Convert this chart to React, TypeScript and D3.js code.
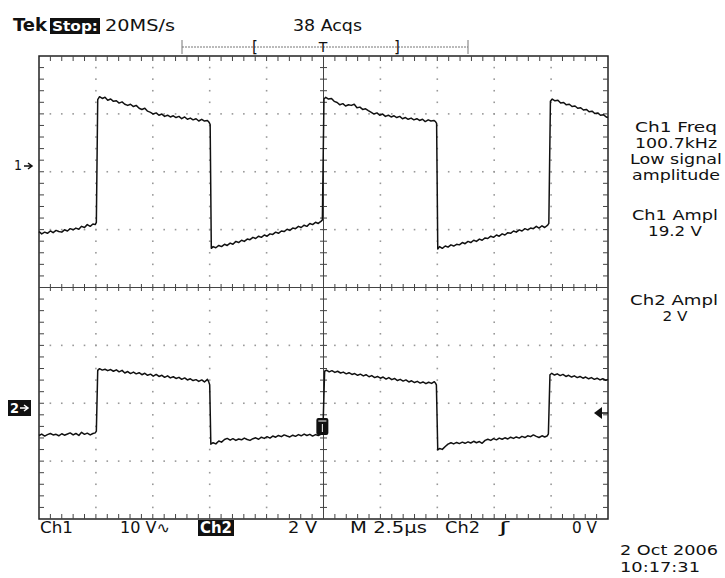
import React from 'react';
import * as d3 from 'd3';

// time in µs, value in volts
const ch1Trace: [number, number][] = [
  [0, -11.5], [0.12, -11.9], [0.25, -11.6], [0.37, -11.8], [0.5, -11.4], [0.62, -11.7], [0.75, -11.3], [0.87, -11.5],
  [1.0, -11.6], [1.12, -11.2], [1.25, -11.4], [1.37, -11.0], [1.5, -11.2], [1.62, -10.9], [1.75, -11.1], [1.87, -10.6],
  [2.0, -10.8], [2.12, -10.3], [2.25, -10.6], [2.37, -10.2], [2.47, -10.3],
  [2.52, -9.9], [2.58, 11.3], [2.66, 11.8], [2.78, 11.5], [2.9, 11.7], [3.02, 11.2], [3.15, 11.4], [3.27, 11.0],
  [3.4, 11.1], [3.52, 10.7], [3.65, 10.9], [3.77, 10.5], [3.9, 10.3], [4.02, 10.5], [4.15, 10.1], [4.27, 10.3],
  [4.4, 9.8], [4.52, 9.6], [4.65, 9.8], [4.77, 9.3], [4.9, 9.1], [5.02, 8.8], [5.15, 9.0], [5.27, 8.6], [5.4, 8.8],
  [5.52, 8.4], [5.65, 8.6], [5.77, 8.3], [5.9, 8.5], [6.02, 8.2], [6.15, 8.4], [6.27, 8.0], [6.4, 8.3], [6.52, 7.9],
  [6.65, 8.1], [6.77, 7.8], [6.9, 8.0], [7.02, 7.6], [7.15, 7.9], [7.27, 7.6], [7.4, 7.7], [7.47, 7.4],
  [7.52, 7.0], [7.57, -14.4], [7.65, -14.1], [7.77, -14.3], [7.9, -13.9], [8.02, -14.1], [8.15, -13.7], [8.27, -13.9],
  [8.4, -13.5], [8.52, -13.7], [8.65, -13.2], [8.77, -13.4], [8.9, -13.0], [9.02, -13.2], [9.15, -12.8], [9.27, -12.9],
  [9.4, -12.5], [9.52, -12.7], [9.65, -12.3], [9.77, -12.5], [9.9, -12.1], [10.02, -12.3], [10.15, -11.9], [10.27, -12.0],
  [10.4, -11.6], [10.52, -11.8], [10.65, -11.4], [10.77, -11.5], [10.9, -11.1], [11.02, -11.3], [11.15, -10.9],
  [11.27, -11.0], [11.4, -10.6], [11.52, -10.8], [11.65, -10.4], [11.77, -10.6], [11.9, -10.1], [12.02, -10.3],
  [12.15, -9.9], [12.27, -10.1], [12.4, -9.7],
  [12.45, -9.5], [12.52, 11.4], [12.6, 11.7], [12.72, 11.4], [12.85, 11.5], [12.97, 11.0], [13.1, 10.8], [13.22, 10.4],
  [13.35, 10.6], [13.47, 10.2], [13.6, 10.4], [13.72, 10.3], [13.85, 10.5], [13.97, 9.9], [14.1, 10.0], [14.22, 9.6],
  [14.35, 9.7], [14.47, 9.4], [14.6, 9.1], [14.72, 8.8], [14.85, 9.0], [14.97, 8.6], [15.1, 8.8], [15.22, 8.4],
  [15.35, 8.6], [15.47, 8.3], [15.6, 8.5], [15.72, 8.2], [15.85, 8.4], [15.97, 8.0], [16.1, 8.2], [16.22, 7.9],
  [16.35, 8.1], [16.47, 7.8], [16.6, 8.0], [16.72, 7.7], [16.85, 7.9], [16.97, 7.5], [17.1, 7.8], [17.22, 7.6],
  [17.35, 7.7], [17.42, 7.5],
  [17.47, 7.2], [17.52, -14.5], [17.6, -14.1], [17.72, -14.4], [17.85, -14.0], [17.97, -14.2], [18.1, -13.8],
  [18.22, -14.0], [18.35, -13.7], [18.47, -13.8], [18.6, -13.4], [18.72, -13.6], [18.85, -13.2], [18.97, -13.4],
  [19.1, -13.0], [19.22, -13.2], [19.35, -12.8], [19.47, -13.0], [19.6, -12.6], [19.72, -12.7], [19.85, -12.3],
  [19.97, -12.5], [20.1, -12.1], [20.22, -12.3], [20.35, -11.9], [20.47, -12.1], [20.6, -11.7], [20.72, -11.8],
  [20.85, -11.4], [20.97, -11.6], [21.1, -11.2], [21.22, -11.4], [21.35, -11.0], [21.47, -11.2], [21.6, -10.9],
  [21.72, -11.0], [21.85, -10.6], [21.97, -10.9], [22.1, -10.5], [22.22, -10.8], [22.35, -10.4],
  [22.4, -10.1], [22.47, 11.0], [22.55, 11.4], [22.67, 11.1], [22.8, 11.2], [22.92, 10.7], [23.05, 10.8], [23.17, 10.4],
  [23.3, 10.5], [23.42, 10.1], [23.55, 10.2], [23.67, 9.8], [23.8, 9.9], [23.92, 9.5], [24.05, 9.6], [24.17, 9.2],
  [24.3, 9.3], [24.42, 8.9], [24.55, 9.0], [24.67, 8.6], [24.8, 8.7], [24.92, 8.3], [25, 8.2],
];

const ch2Trace: [number, number][] = [
  [0, -0.95], [0.12, -0.9], [0.25, -0.97], [0.37, -0.92], [0.5, -0.88], [0.62, -0.93], [0.75, -0.91], [0.87, -0.96],
  [1.0, -0.89], [1.12, -0.94], [1.25, -0.9], [1.37, -0.86], [1.5, -0.93], [1.62, -0.88], [1.75, -0.95], [1.87, -0.84],
  [2.0, -0.91], [2.12, -0.87], [2.25, -0.93], [2.37, -0.88], [2.47, -0.86],
  [2.52, -0.8], [2.58, 1.3], [2.66, 1.36], [2.78, 1.31], [2.9, 1.34], [3.02, 1.29], [3.15, 1.33], [3.27, 1.27],
  [3.4, 1.32], [3.52, 1.25], [3.65, 1.3], [3.77, 1.21], [3.9, 1.26], [4.02, 1.19], [4.15, 1.24], [4.27, 1.18],
  [4.4, 1.22], [4.52, 1.15], [4.65, 1.2], [4.77, 1.13], [4.9, 1.17], [5.02, 1.1], [5.15, 1.16], [5.27, 1.09],
  [5.4, 1.13], [5.52, 1.06], [5.65, 1.11], [5.77, 1.04], [5.9, 1.08], [6.02, 1.02], [6.15, 1.06], [6.27, 0.99],
  [6.4, 1.04], [6.52, 0.97], [6.65, 1.01], [6.77, 0.95], [6.9, 0.98], [7.02, 0.92], [7.15, 0.97], [7.27, 0.9],
  [7.4, 0.99], [7.45, 0.92],
  [7.5, 0.8], [7.55, -1.25], [7.65, -1.2], [7.77, -1.24], [7.9, -1.14], [8.02, -1.18], [8.15, -1.09], [8.27, -1.05],
  [8.4, -1.11], [8.52, -1.06], [8.65, -1.12], [8.77, -1.07], [8.9, -1.1], [9.02, -1.04], [9.15, -1.09], [9.27, -1.12],
  [9.4, -1.06], [9.52, -1.03], [9.65, -1.08], [9.77, -1.01], [9.9, -1.05], [10.02, -0.99], [10.15, -1.04],
  [10.27, -0.97], [10.4, -1.01], [10.52, -0.95], [10.65, -0.99], [10.77, -0.93], [10.9, -0.97], [11.02, -1.0],
  [11.15, -0.94], [11.27, -0.98], [11.4, -0.92], [11.52, -0.96], [11.65, -0.9], [11.77, -0.95], [11.9, -0.91],
  [12.02, -0.97], [12.15, -0.92], [12.27, -0.95], [12.4, -0.9],
  [12.47, -0.88], [12.55, 1.27], [12.63, 1.31], [12.75, 1.25], [12.87, 1.29], [13.0, 1.23], [13.12, 1.27],
  [13.25, 1.21], [13.37, 1.24], [13.5, 1.18], [13.62, 1.22], [13.75, 1.16], [13.87, 1.19], [14.0, 1.13],
  [14.12, 1.17], [14.25, 1.11], [14.37, 1.15], [14.5, 1.08], [14.62, 1.12], [14.75, 1.05], [14.87, 1.09],
  [15.0, 1.03], [15.12, 1.07], [15.25, 1.0], [15.37, 1.05], [15.5, 0.98], [15.62, 1.02], [15.75, 0.95],
  [15.87, 0.99], [16.0, 0.93], [16.12, 0.97], [16.25, 0.9], [16.37, 0.94], [16.5, 0.88], [16.62, 0.92],
  [16.75, 0.86], [16.87, 0.9], [17.0, 0.84], [17.12, 0.89], [17.25, 0.85], [17.37, 0.91], [17.42, 0.86],
  [17.46, 0.8], [17.52, -1.45], [17.6, -1.4], [17.72, -1.43], [17.85, -1.33], [17.97, -1.25], [18.1, -1.2],
  [18.22, -1.24], [18.35, -1.19], [18.47, -1.23], [18.6, -1.18], [18.72, -1.22], [18.85, -1.17], [18.97, -1.21],
  [19.1, -1.15], [19.22, -1.2], [19.35, -1.16], [19.47, -1.22], [19.6, -1.12], [19.72, -1.08], [19.85, -1.12],
  [19.97, -1.06], [20.1, -1.1], [20.22, -1.04], [20.35, -1.08], [20.47, -1.03], [20.6, -1.07], [20.72, -1.01],
  [20.85, -1.05], [20.97, -1.0], [21.1, -1.04], [21.22, -0.98], [21.35, -1.02], [21.47, -0.96], [21.6, -0.99],
  [21.72, -0.93], [21.85, -0.98], [21.97, -1.02], [22.1, -0.96], [22.22, -1.0], [22.32, -0.97],
  [22.38, -0.9], [22.45, 1.15], [22.53, 1.2], [22.65, 1.14], [22.77, 1.18], [22.9, 1.12], [23.02, 1.16],
  [23.15, 1.09], [23.27, 1.13], [23.4, 1.07], [23.52, 1.11], [23.65, 1.05], [23.77, 1.09], [23.9, 1.03],
  [24.02, 1.07], [24.15, 1.01], [24.27, 1.05], [24.4, 0.99], [24.52, 1.03], [24.65, 0.97], [24.77, 1.01],
  [24.9, 0.96], [25, 0.99],
];

const rightReadouts = ['Ch1 Freq', '100.7kHz', 'Low signal', 'amplitude', 'Ch1 Ampl', '19.2 V', 'Ch2 Ampl', '2 V'];
const bottomLabels = ['Ch1', '10 V\u223F', 'Ch2', '2 V', 'M 2.5\u00B5s', 'Ch2', '\u0283', '0 V'];
const dateLines = ['2 Oct 2006', '10:17:31'];

const W = 725, H = 578;
const left = 39, right = 608, top = 56, bottom = 519;
const div = (bottom - top) / 8;

const font = '"DejaVu Sans", "Open Sans", sans-serif';

function Txt({ x, y, s, len, size = 14, anchor = 'start', fill = '#111', weight = 'normal' }: any) {
  return (
    <text x={x} y={y} fontSize={size} fontFamily={font} fill={fill} fontWeight={weight}
      textAnchor={anchor} textLength={len} lengthAdjust="spacingAndGlyphs">{s}</text>
  );
}

export default function App() {
  const x = d3.scaleLinear().domain([0, 25]).range([left, right]);
  const y1 = d3.scaleLinear().domain([0, 10]).range([165, 165 - div]);
  const y2 = d3.scaleLinear().domain([0, 2]).range([408, 408 - div]);

  const line1 = d3.line<[number, number]>().x(d => x(d[0])).y(d => y1(d[1]));
  const line2 = d3.line<[number, number]>().x(d => x(d[0])).y(d => y2(d[1]));

  const vLines = d3.range(11).map(i => x(i * 2.5));
  const hLines = d3.range(9).map(i => top + i * div);
  const minorX = d3.range(51).map(i => left + i * (right - left) / 50);
  const minorY = d3.range(41).map(i => top + i * div / 5);
  const cx = vLines[5], cy = hLines[4];

  const dots: JSX.Element[] = [];
  vLines.slice(1, 10).forEach((vx, i) => {
    if (i === 4) return;
    minorY.slice(1, 40).forEach((yy, j) => dots.push(<rect key={`v${i}-${j}`} x={vx - 0.8} y={yy - 0.8} width={1.6} height={1.6} fill="#999" />));
  });
  hLines.slice(1, 8).forEach((hy, i) => {
    if (i === 3) return;
    minorX.slice(1, 50).forEach((xx, j) => dots.push(<rect key={`h${i}-${j}`} x={xx - 0.8} y={hy - 0.8} width={1.6} height={1.6} fill="#999" />));
  });

  // right readouts: [x center, baseline, width]
  const rPos = [[676, 132, 82], [676, 148, 82], [676, 164, 92], [676, 180, 88], [675, 220, 86], [675, 236, 54], [674, 305, 88], [675, 321, 25]];
  // bottom labels: [x, width]
  const bPos = [[40, 33], [120, 50], [200, 32], [288, 29], [350, 77], [445, 35], [499, 10], [572, 25]];

  return (
    <svg width={W} height={H} style={{ position: 'absolute', left: 0, top: 0, background: '#fff' }}>
      <rect x={0} y={0} width={W} height={H} fill="#fff" />

      {/* header */}
      <Txt x={13} y={31} s="Tek" size={17} weight="bold" len={34} />
      <rect x={50} y={18} width={50} height={16} fill="#111" />
      <Txt x={52} y={31} s="Stop:" size={14} weight="bold" fill="#fff" len={46} />
      <Txt x={105} y={31} s="20MS/s" size={15} len={70} />
      <Txt x={293} y={31} s="38 Acqs" size={15} len={69} />
      <line x1={182} x2={468} y1={47} y2={47} stroke="#777" strokeWidth={1} strokeDasharray="2,1" />
      <line x1={182} x2={182} y1={40} y2={54} stroke="#777" />
      <line x1={468} x2={468} y1={40} y2={54} stroke="#777" />
      <Txt x={255} y={52} s="[" size={15} anchor="middle" />
      <Txt x={323} y={52} s="T" size={14} anchor="middle" />
      <Txt x={397} y={52} s="]" size={15} anchor="middle" />

      {/* graticule */}
      <g>{dots}</g>
      <rect x={left} y={top} width={right - left} height={bottom - top} fill="none" stroke="#222" strokeWidth={1.5} />
      <line x1={left} x2={right} y1={cy} y2={cy} stroke="#444" strokeWidth={1} />
      <line x1={cx} x2={cx} y1={top} y2={bottom} stroke="#444" strokeWidth={1} />
      {minorX.slice(1, 50).map((xx, i) => (
        <g key={`tx${i}`} stroke="#444" strokeWidth={1}>
          <line x1={xx} x2={xx} y1={top} y2={top + 5} />
          <line x1={xx} x2={xx} y1={bottom} y2={bottom - 5} />
          <line x1={xx} x2={xx} y1={cy - 3.5} y2={cy + 3.5} />
        </g>
      ))}
      {minorY.slice(1, 40).map((yy, i) => (
        <g key={`ty${i}`} stroke="#444" strokeWidth={1}>
          <line x1={left} x2={left + 5} y1={yy} y2={yy} />
          <line x1={right} x2={right - 5} y1={yy} y2={yy} />
          <line x1={cx - 3.5} x2={cx + 3.5} y1={yy} y2={yy} />
        </g>
      ))}

      {/* traces */}
      <path d={line1(ch1Trace) || ''} fill="none" stroke="#111" strokeWidth={1.5} strokeLinejoin="round" />
      <path d={line2(ch2Trace) || ''} fill="none" stroke="#111" strokeWidth={1.5} strokeLinejoin="round" />

      {/* trigger position marker on ch2 */}
      <rect x={x(12.45) - 6} y={418} width={12} height={17} rx={2} fill="#111" />
      <line x1={x(12.45) - 4} x2={x(12.45) + 4} y1={421} y2={421} stroke="#fff" strokeWidth={1} />
      <line x1={x(12.45)} x2={x(12.45)} y1={424} y2={432} stroke="#fff" strokeWidth={1} />

      {/* trigger level arrow */}
      <path d={`M${right - 14},${413} L${right - 6},${407} L${right - 6},${419} Z`} fill="#111" />
      <line x1={right - 6} x2={right} y1={413} y2={413} stroke="#111" strokeWidth={1.5} />

      {/* channel markers */}
      <Txt x={14} y={170} s="1" size={14} len={8} />
      <path d="M24,166 L31,166 M28,163 L32,166 L28,169" stroke="#111" strokeWidth={1.5} fill="none" />
      <rect x={8} y={400} width={23} height={16} fill="#111" />
      <Txt x={10} y={413} s="2" size={14} fill="#fff" weight="bold" len={9} />
      <path d="M20,408 L27,408 M24,405 L28,408 L24,411" stroke="#fff" strokeWidth={1.5} fill="none" />

      {/* right readouts */}
      {rightReadouts.map((s, i) => (
        <Txt key={s + i} x={rPos[i][0]} y={rPos[i][1]} s={s} size={14} anchor="middle" len={rPos[i][2]} />
      ))}

      {/* bottom labels */}
      <rect x={198} y={520} width={36} height={16} fill="#111" />
      {bottomLabels.map((s, i) => (
        <Txt key={s + i} x={bPos[i][0]} y={533} s={s} size={15} len={bPos[i][1]}
          fill={i === 2 ? '#fff' : '#111'} weight={i === 2 ? 'bold' : 'normal'} />
      ))}

      {/* date */}
      <Txt x={620} y={555} s={dateLines[0]} size={14} len={98} />
      <Txt x={620} y={572} s={dateLines[1]} size={14} len={80} />
    </svg>
  );
}
